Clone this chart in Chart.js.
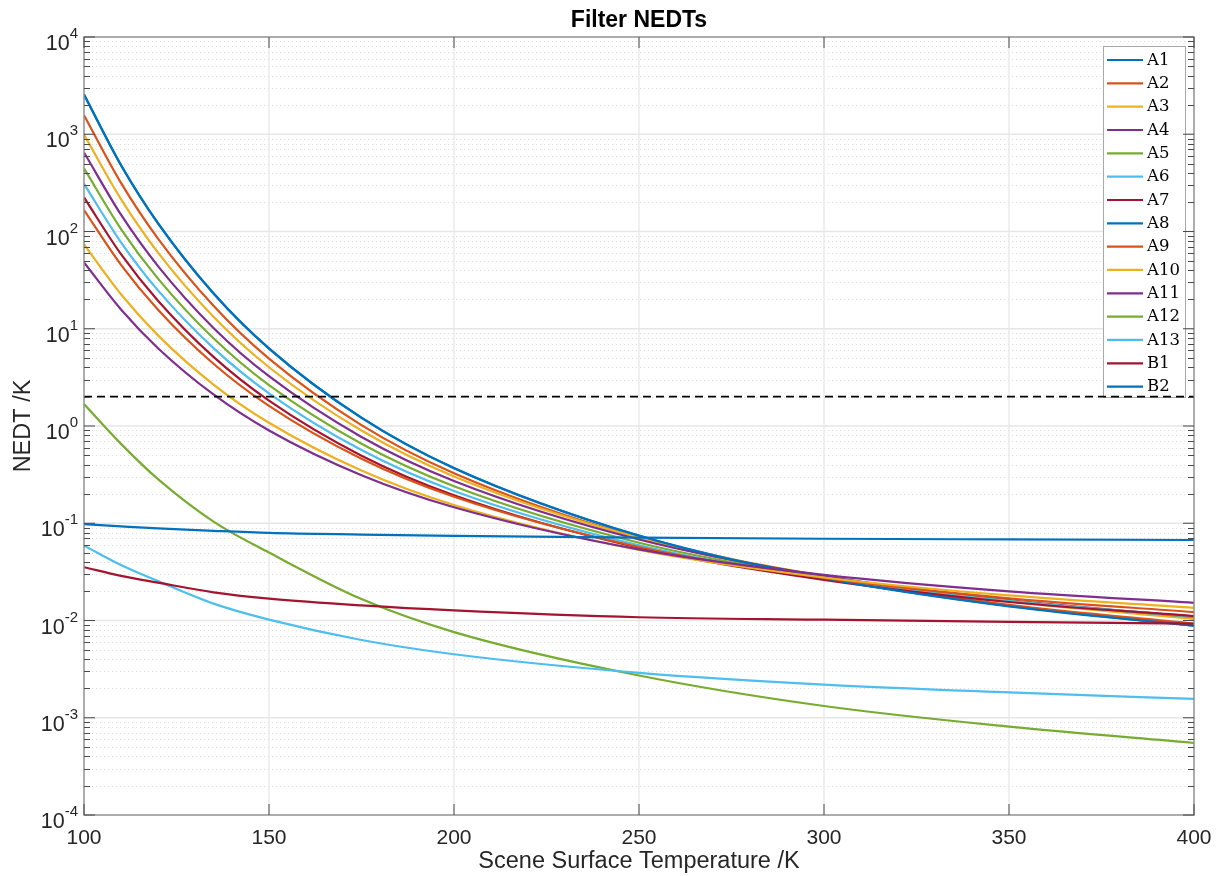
<!DOCTYPE html>
<html>
<head>
<meta charset="utf-8">
<script src="https://cdn.jsdelivr.net/npm/chart.js@4/dist/chart.umd.min.js"></script>
<style>
html,body{margin:0;padding:0;background:#fff;}
#wrap{width:1223px;height:876px;position:relative;}
canvas{display:block;}
</style>
</head>
<body>
<div id="wrap"><canvas id="c" width="1223" height="876"></canvas></div>
<script>
// ---- Data ----
const temperatures = [100, 110, 120, 135, 150, 175, 200, 250, 300, 350, 400];

const A1  = [2565, 483, 122, 23.2, 6.29, 1.22, 0.370, 0.0746, 0.0274, 0.0141, 0.00887];
const A2  = [1570, 316, 84.4, 17.2, 4.92, 1.02, 0.327, 0.0710, 0.0273, 0.0145, 0.00929];
const A3  = [995, 215, 60.7, 13.3, 4.02, 0.898, 0.303, 0.0710, 0.0287, 0.0157, 0.01035];
const A4  = [650, 149, 44.1, 10.2, 3.25, 0.771, 0.272, 0.0680, 0.0286, 0.0162, 0.0109];
const A5  = [445, 106, 32.8, 7.98, 2.63, 0.656, 0.240, 0.0631, 0.0275, 0.0159, 0.0109];
const A6  = [309, 77.5, 24.8, 6.32, 2.17, 0.566, 0.215, 0.0594, 0.0267, 0.0158, 0.0110];
const A7  = [224, 58.4, 19.4, 5.13, 1.82, 0.495, 0.194, 0.0560, 0.0262, 0.0155, 0.0111];
const A8  = [2560, 480, 121, 23.0, 6.25, 1.21, 0.368, 0.0743, 0.0273, 0.0140, 0.00885];
const A9  = [166, 45.4, 15.7, 4.37, 1.61, 0.460, 0.187, 0.0570, 0.0274, 0.0169, 0.0122];
const A10 = [73.6, 22.6, 8.55, 2.67, 1.08, 0.348, 0.154, 0.0531, 0.0277, 0.0181, 0.0135];
const A11 = [48.1, 15.8, 6.31, 2.11, 0.900, 0.312, 0.146, 0.0538, 0.0294, 0.0199, 0.0152];
const A12 = [1.68, 0.655, 0.284, 0.104, 0.050, 0.0166, 0.0076, 0.00272, 0.00132, 0.00081, 0.00055];
const A13 = [0.0589, 0.0372, 0.0254, 0.0149, 0.0102, 0.0063, 0.0045, 0.0029, 0.00219, 0.00182, 0.00156];
const B1  = [0.0353, 0.0288, 0.0245, 0.0195, 0.0168, 0.0143, 0.0127, 0.0108, 0.0102, 0.0097, 0.0093];
const B2  = [0.098, 0.093, 0.0885, 0.0835, 0.0795, 0.0765, 0.0742, 0.0712, 0.0693, 0.0682, 0.0673];

const seriesNames = ['A1','A2','A3','A4','A5','A6','A7','A8','A9','A10','A11','A12','A13','B1','B2'];
const seriesValues = [A1,A2,A3,A4,A5,A6,A7,A8,A9,A10,A11,A12,A13,B1,B2];

const thresholdTemps = [100, 400];
const thresholdValue = 2;

const xTickValues = [100, 150, 200, 250, 300, 350, 400];
const yTickExponents = [-4, -3, -2, -1, 0, 1, 2, 3, 4];
const minorMultipliers = [2, 3, 4, 5, 6, 7, 8, 9];

const titleText = 'Filter NEDTs';
const xLabelText = 'Scene Surface Temperature /K';
const yLabelText = 'NEDT /K';

// ---- Styles ----
const palette = ['#0072BD','#D95319','#EDB120','#7E2F8E','#77AC30','#4DBEEE','#A2142F'];
const SANS = '"Liberation Sans", Arial, Helvetica, sans-serif';
const SERIF = '"DejaVu Serif", "Liberation Serif", serif';

const datasets = seriesNames.map((name, i) => ({
  label: name,
  data: temperatures.map((t, j) => ({x: t, y: seriesValues[i][j]})),
  borderColor: palette[i % palette.length],
  backgroundColor: palette[i % palette.length],
  borderWidth: 2.2,
  pointRadius: 0,
  fill: false,
  cubicInterpolationMode: 'monotone',
  order: 30 - i
}));
datasets.push({
  label: 'threshold',
  data: thresholdTemps.map(t => ({x: t, y: thresholdValue})),
  borderColor: '#000',
  borderWidth: 1.8,
  borderDash: [8, 5],
  pointRadius: 0,
  fill: false,
  order: 0,
  isThreshold: true
});

function pow10(e){ return Number('1e' + e); }
function seg(ctx, x1, y1, x2, y2){ ctx.beginPath(); ctx.moveTo(x1, y1); ctx.lineTo(x2, y2); ctx.stroke(); }

const matlabAxes = {
  id: 'matlabAxes',
  beforeDatasetsDraw(chart) {
    const {ctx, chartArea: a, scales: {x, y}} = chart;
    ctx.save();
    // minor horizontal grid (dotted)
    ctx.setLineDash([1.2, 2.8]);
    ctx.strokeStyle = '#dedede';
    ctx.lineWidth = 1;
    for (let k = 0; k < yTickExponents.length - 1; k++) {
      for (const m of minorMultipliers) {
        const py = Math.round(y.getPixelForValue(m * pow10(yTickExponents[k]))) + 0.5;
        seg(ctx, a.left, py, a.right, py);
      }
    }
    ctx.setLineDash([]);
    // major grid
    ctx.strokeStyle = '#e6e6e6';
    ctx.lineWidth = 1.6;
    for (const e of yTickExponents) {
      const py = y.getPixelForValue(pow10(e));
      if (Math.abs(py - a.top) < 1 || Math.abs(py - a.bottom) < 1) continue;
      seg(ctx, a.left, py, a.right, py);
    }
    ctx.lineWidth = 1.2;
    for (const v of xTickValues) {
      const px = x.getPixelForValue(v);
      if (Math.abs(px - a.left) < 1 || Math.abs(px - a.right) < 1) continue;
      seg(ctx, px, a.top, px, a.bottom);
    }
    // legend (drawn under the datasets, like the reference where the dashed line passes over)
    const L = {left: 1103, top: 46, right: 1186, bottom: 398};
    ctx.fillStyle = '#fff';
    ctx.fillRect(L.left, L.top, L.right - L.left, L.bottom - L.top);
    ctx.strokeStyle = '#a8a8a8';
    ctx.lineWidth = 1;
    ctx.strokeRect(L.left + 0.5, L.top + 0.5, L.right - L.left - 1, L.bottom - L.top - 1);
    const step = 23.33;
    ctx.font = '16.5px ' + SERIF;
    ctx.textBaseline = 'middle';
    ctx.textAlign = 'left';
    chart.data.datasets.forEach((ds, i) => {
      if (ds.isThreshold) return;
      const ly = 60 + i * step;
      ctx.strokeStyle = ds.borderColor;
      ctx.lineWidth = 2.2;
      seg(ctx, 1107, ly, 1143, ly);
      ctx.fillStyle = '#000';
      ctx.fillText(ds.label, 1147, ly + 0.5);
    });
    ctx.restore();
  },
  afterDatasetsDraw(chart) {
    const {ctx, chartArea: a, scales: {x, y}} = chart;
    ctx.save();
    // axes box
    ctx.strokeStyle = '#8a8a8a';
    ctx.lineWidth = 1.4;
    ctx.strokeRect(a.left, a.top, a.right - a.left, a.bottom - a.top);
    // ticks
    ctx.strokeStyle = '#4a4a4a';
    ctx.lineWidth = 1;
    for (const e of yTickExponents) {
      const py = y.getPixelForValue(pow10(e));
      seg(ctx, a.left, py, a.left + 11, py);
      seg(ctx, a.right, py, a.right - 11, py);
    }
    for (let k = 0; k < yTickExponents.length - 1; k++) {
      for (const m of minorMultipliers) {
        const py = Math.round(y.getPixelForValue(m * pow10(yTickExponents[k]))) + 0.5;
        seg(ctx, a.left, py, a.left + 6, py);
        seg(ctx, a.right, py, a.right - 6, py);
      }
    }
    for (const v of xTickValues) {
      const px = x.getPixelForValue(v);
      seg(ctx, px, a.bottom, px, a.bottom - 11);
      seg(ctx, px, a.top, px, a.top + 11);
    }
    ctx.restore();
  },
  afterDraw(chart) {
    const {ctx, chartArea: a, scales: {x, y}} = chart;
    ctx.save();
    ctx.fillStyle = '#262626';
    // x tick labels
    ctx.font = '21px ' + SANS;
    ctx.textAlign = 'center';
    ctx.textBaseline = 'alphabetic';
    for (const v of xTickValues) {
      ctx.fillText(String(v), x.getPixelForValue(v), a.bottom + 29);
    }
    // y tick labels 10^e
    const rightEdge = a.left - 6;
    for (const e of yTickExponents) {
      const py = y.getPixelForValue(pow10(e));
      const expStr = String(e);
      ctx.font = '15px ' + SANS;
      const we = ctx.measureText(expStr).width;
      ctx.font = '21.5px ' + SANS;
      const wb = ctx.measureText('10').width;
      ctx.textAlign = 'left';
      ctx.fillText('10', rightEdge - we - wb, py + 13);
      ctx.font = '15px ' + SANS;
      ctx.fillText(expStr, rightEdge - we, py + 1);
    }
    // axis labels
    ctx.font = '23.5px ' + SANS;
    ctx.textAlign = 'center';
    ctx.fillText(xLabelText, (a.left + a.right) / 2, 868);
    ctx.save();
    ctx.translate(30, (a.top + a.bottom) / 2);
    ctx.rotate(-Math.PI / 2);
    ctx.fillText(yLabelText, 0, 0);
    ctx.restore();
    // title
    ctx.fillStyle = '#000';
    ctx.font = 'bold 23px ' + SANS;
    ctx.fillText(titleText, (a.left + a.right) / 2, 27);
    ctx.restore();
  }
};

new Chart(document.getElementById('c'), {
  type: 'line',
  data: {datasets},
  options: {
    responsive: false,
    animation: false,
    devicePixelRatio: 1,
    layout: {padding: {left: 84, right: 29, top: 37, bottom: 61}},
    plugins: {legend: {display: false}, title: {display: false}, tooltip: {enabled: false}},
    scales: {
      x: {type: 'linear', min: 100, max: 400, display: false},
      y: {type: 'logarithmic', min: 1e-4, max: 1e4, display: false}
    }
  },
  plugins: [matlabAxes]
});
</script>
</body>
</html>
